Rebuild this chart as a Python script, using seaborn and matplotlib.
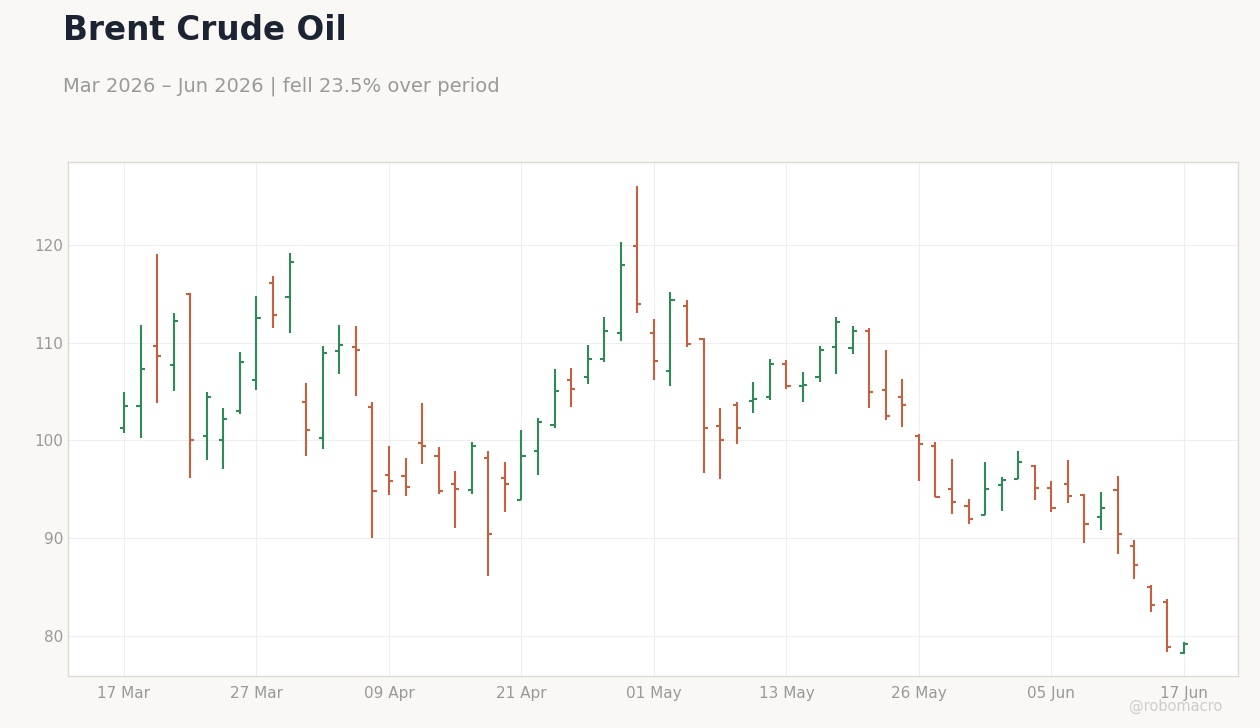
import numpy as np
import pandas as pd
import matplotlib
matplotlib.use("Agg")
import matplotlib.pyplot as plt
import seaborn as sns

# ----------------------------
# OHLC data
# ----------------------------
opens = [101.3, 103.5, 109.7, 107.7, 115.0, 100.5, 100.0, 103.0, 106.2, 116.1,
         114.7, 103.9, 100.3, 109.2, 109.6, 103.4, 96.5, 96.4, 99.7, 98.4,
         95.5, 94.9, 98.2, 96.2, 93.9, 98.9, 101.6, 106.2, 106.5, 108.3,
         111.0, 119.9, 111.0, 107.1, 113.8, 110.4, 101.5, 103.6, 104.0, 104.5,
         107.8, 105.6, 106.5, 109.6, 109.5, 111.2, 105.2, 104.5, 100.5, 99.4,
         95.0, 93.3, 92.4, 95.4, 96.1, 97.4, 95.1, 95.5, 94.4, 92.2,
         94.9, 89.2, 85.0, 83.5, 78.3]
highs = [105.0, 111.8, 119.1, 113.0, 115.1, 105.0, 103.3, 109.1, 114.8, 116.8,
         119.2, 105.9, 109.7, 111.8, 111.7, 103.9, 99.4, 98.2, 103.8, 99.3,
         96.9, 99.8, 98.9, 97.8, 101.1, 102.3, 107.3, 107.4, 109.8, 112.6,
         120.3, 126.0, 112.4, 115.2, 114.4, 110.5, 103.3, 103.9, 106.0, 108.3,
         108.2, 107.0, 109.7, 112.6, 111.7, 111.5, 109.3, 106.3, 100.7, 99.8,
         98.1, 94.0, 97.8, 96.3, 98.9, 97.5, 95.9, 98.0, 94.5, 94.7,
         96.4, 89.8, 85.2, 83.8, 79.4]
lows = [100.8, 100.3, 103.8, 105.1, 96.2, 98.0, 97.1, 102.7, 105.2, 111.5,
        111.0, 98.4, 99.1, 106.8, 104.6, 90.0, 94.4, 94.3, 97.6, 94.5,
        91.0, 94.5, 86.1, 92.7, 93.9, 96.5, 101.3, 103.4, 105.8, 108.0,
        110.2, 113.0, 106.2, 105.6, 109.6, 96.7, 96.1, 99.6, 102.8, 104.1,
        105.3, 103.9, 106.0, 106.8, 108.9, 103.3, 102.1, 101.4, 95.9, 94.2,
        92.5, 91.5, 92.4, 92.8, 96.1, 93.9, 92.7, 93.6, 89.5, 90.8,
        88.4, 85.8, 82.4, 78.4, 78.2]
closes = [103.5, 107.3, 108.6, 112.2, 100.0, 104.5, 102.2, 108.0, 112.5, 112.8,
          118.3, 101.1, 109.0, 109.8, 109.3, 94.8, 95.9, 95.2, 99.4, 94.8,
          95.0, 99.4, 90.4, 95.5, 98.4, 101.9, 105.1, 105.3, 108.3, 111.2,
          118.0, 114.0, 108.1, 114.4, 109.9, 101.3, 100.1, 101.3, 104.2, 107.8,
          105.6, 105.7, 109.3, 112.1, 111.2, 105.0, 102.5, 103.6, 99.6, 94.2,
          93.7, 92.0, 95.0, 96.0, 97.8, 95.1, 93.1, 94.3, 91.5, 93.1,
          90.4, 87.3, 83.2, 78.9, 79.2]
holidays = ["2026-04-03", "2026-05-25"]

bday = pd.offsets.CustomBusinessDay(holidays=holidays)
dates = pd.date_range("2026-03-17", periods=len(opens), freq=bday)
df = pd.DataFrame({"date": dates, "open": opens, "high": highs,
                   "low": lows, "close": closes})
df["idx"] = np.arange(len(df))
df["up"] = df["close"] >= df["open"]

GREEN = "#2e8b57"
RED = "#c8603f"
BG = "#f9f8f5"

# ----------------------------
# Figure
# ----------------------------
sns.set_theme(style="whitegrid")
plt.rcParams["font.family"] = ["DejaVu Sans"]

fig = plt.figure(figsize=(12.6, 7.28), dpi=100, facecolor=BG)
ax = fig.add_axes([68 / 1260, 52 / 728, 1170 / 1260, 514 / 728])
ax.set_facecolor("white")

colors = np.where(df["up"], GREEN, RED)
ax.vlines(df["idx"], df["low"], df["high"], colors=colors, linewidth=1.5)
ax.hlines(df["open"], df["idx"] - 0.25, df["idx"], colors=colors, linewidth=1.5)
ax.hlines(df["close"], df["idx"], df["idx"] + 0.25, colors=colors, linewidth=1.5)

ax.set_xlim(-3.38, 67.27)
ax.set_ylim(75.9, 128.5)
ax.set_yticks([80, 90, 100, 110, 120])
ticks = list(range(0, len(df), 8))
ax.set_xticks(ticks)
ax.set_xticklabels([dates[i].strftime("%d %b") for i in ticks])
ax.tick_params(colors="#999999", labelsize=11, length=4)
ax.tick_params(axis="y", length=0)
ax.grid(color="#eeeeee", linewidth=0.8)
for s in ax.spines.values():
    s.set_color("#dddad5")
    s.set_linewidth(1)
ax.set_xlabel("")
ax.set_ylabel("")

change = (closes[-1] / closes[0] - 1) * 100
fig.text(63 / 1260, 1 - 30 / 728, "Brent Crude Oil", fontsize=23.5,
         fontweight="bold", color="#1c2333", va="center")
fig.text(63 / 1260, 1 - 86 / 728,
         f"Mar 2026 – Jun 2026 | fell {abs(change):.1f}% over period",
         fontsize=14, color="#999999", va="center")
fig.text(1222 / 1260, 1 - 706 / 728, "@robomacro", fontsize=10.5,
         color="#cccccc", ha="right", va="center")

fig.savefig("out.png", dpi=100, facecolor=BG)
